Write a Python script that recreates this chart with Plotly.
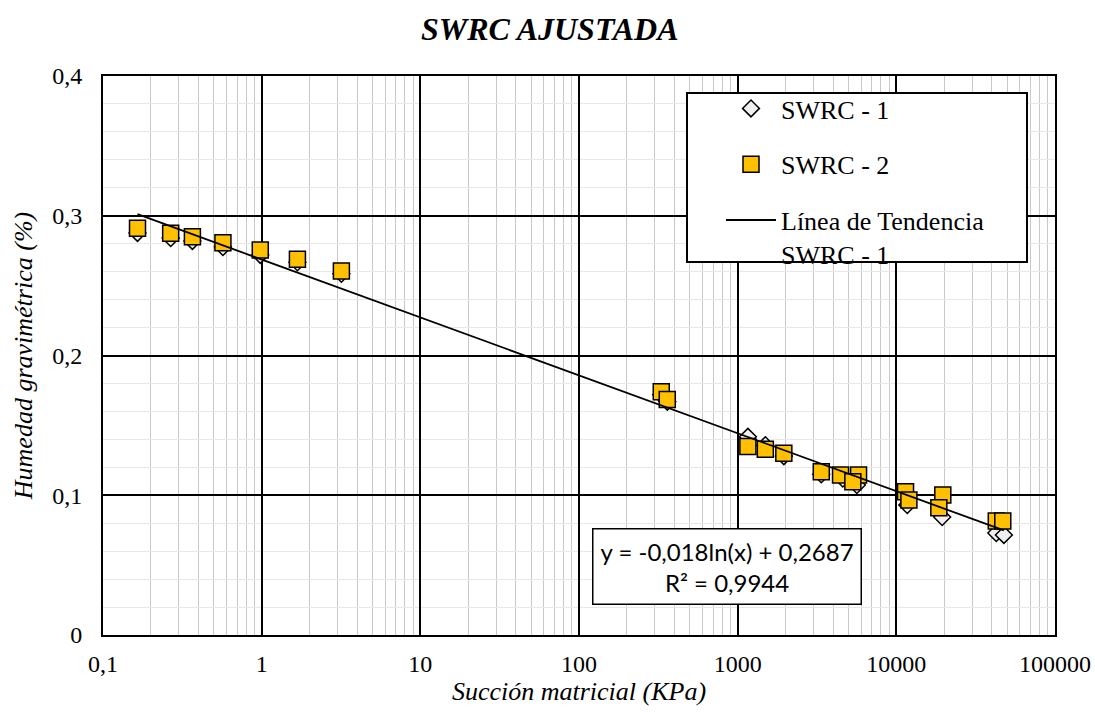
import numpy as np
import plotly.graph_objects as go

# ---------------- data ----------------
swrc1_x = [0.165, 0.267, 0.366, 0.57, 0.98, 1.68, 3.18, 330, 360, 1160, 1494, 1954,
           3365, 4600, 5640, 11720, 19450, 42650, 47640]
swrc1_y = [0.2877, 0.284, 0.282, 0.2776, 0.272, 0.2667, 0.2585, 0.172, 0.167, 0.1418,
           0.1358, 0.128, 0.115, 0.112, 0.1073, 0.093, 0.0844, 0.073, 0.0716]

swrc2_x = [0.165, 0.267, 0.366, 0.57, 0.98, 1.68, 3.18, 330, 360, 1160, 1494, 1954,
           3365, 4450, 5780, 5320, 11430, 12000, 19630, 18530, 42650, 46870]
swrc2_y = [0.291, 0.2874, 0.285, 0.2807, 0.2755, 0.2688, 0.2605, 0.1741, 0.1686, 0.1348,
           0.1329, 0.130, 0.1169, 0.1145, 0.1145, 0.1097, 0.1025, 0.0966, 0.1002, 0.0911,
           0.0816, 0.0816]

trend_slope = -0.018
trend_intercept = 0.2687
trend_label = "y = -0,018ln(x) + 0,2687<br>R² = 0,9944"

x_tickvals = [0.1, 1, 10, 100, 1000, 10000, 100000]
x_ticktext = ["0,1", "1", "10", "100", "1000", "10000", "100000"]
y_tickvals = [0, 0.1, 0.2, 0.3, 0.4]
y_ticktext = ["0", "0,1", "0,2", "0,3", "0,4"]

# trend line over the SWRC-1 range
tx = np.logspace(np.log10(min(swrc1_x)), np.log10(max(swrc1_x)), 60)
ty = trend_slope * np.log(tx) + trend_intercept

x_minor = [m * 10.0 ** e for e in range(-1, 5) for m in range(2, 10)]

SERIF = "Liberation Serif, Times New Roman, serif"

L, R, T, B = 103, 1055, 76, 635
PW, PH = R - L, B - T


def px(xp):
    return (xp - L) / PW


def py(yp):
    return (B - yp) / PH


fig = go.Figure()
fig.add_trace(go.Scatter(
    x=swrc1_x, y=swrc1_y, mode="markers", name="SWRC - 1", legendgroup="a",
    marker=dict(symbol="diamond", size=13, color="#f0f0f0",
                line=dict(color="black", width=1.5)),
))
fig.add_trace(go.Scatter(
    x=swrc2_x, y=swrc2_y, mode="markers", name="SWRC - 2", legendgroup="b",
    marker=dict(symbol="square", size=16, color="#FFC000",
                line=dict(color="black", width=1.5)),
))
fig.add_trace(go.Scatter(
    x=tx, y=ty, mode="lines", name="Línea de Tendencia<br>SWRC - 1", legendgroup="c",
    line=dict(color="black", width=1.8),
))

axis_common = dict(
    showline=True, linecolor="black", linewidth=2, mirror=True,
    ticks="", zeroline=False, automargin=False,
    tickfont=dict(family=SERIF, size=24, color="black"),
)

fig.update_xaxes(
    type="log", range=[-1, 5],
    tickmode="array", tickvals=x_tickvals, ticktext=x_ticktext,
    showgrid=True, gridcolor="black", gridwidth=1.5,
    minor=dict(tickmode="array", tickvals=x_minor, showgrid=True,
               gridcolor="#c8c8c8", gridwidth=1),
    ticklabelstandoff=6,
    title=dict(text="Succión matricial (KPa)", standoff=2,
               font=dict(family=SERIF, size=26, color="black", style="italic")),
    **axis_common,
)
fig.update_yaxes(
    range=[0, 0.4],
    tickmode="array", tickvals=y_tickvals, ticktext=y_ticktext,
    showgrid=True, gridcolor="black", gridwidth=1.5,
    minor=dict(dtick=0.02, showgrid=True, gridcolor="#e8e8e8", gridwidth=1),
    ticklabelstandoff=14,
    title=dict(text="Humedad gravimétrica (%)", standoff=12,
               font=dict(family=SERIF, size=26, color="black", style="italic")),
    **axis_common,
)

# legend frame
fig.add_shape(type="rect", xref="paper", yref="paper",
              x0=px(687), x1=px(1027), y0=py(262), y1=py(93),
              line=dict(color="black", width=2), fillcolor="white", layer="above")

fig.add_annotation(
    xref="paper", yref="paper", x=px(727), y=py(566),
    xanchor="center", yanchor="middle",
    text=trend_label, showarrow=False, align="center",
    font=dict(family="Lato, Carlito, Calibri, sans-serif", size=24, color="black"),
    bordercolor="black", borderwidth=1.5, borderpad=7, bgcolor="white",
)

fig.update_layout(
    width=1095, height=715,
    margin=dict(l=L, r=1095 - R, t=T, b=715 - B),
    paper_bgcolor="white", plot_bgcolor="white",
    title=dict(text="<b><i>SWRC AJUSTADA</i></b>", x=0.502, xanchor="center",
               y=1 - 29 / 715, yanchor="middle",
               font=dict(family=SERIF, size=32, color="black")),
    legend=dict(x=px(721), y=py(85), xanchor="left", yanchor="top",
                bgcolor="rgba(0,0,0,0)", borderwidth=0, tracegroupgap=19,
                valign="top",
                font=dict(family=SERIF, size=26, color="black"), itemwidth=50),
    showlegend=True,
)

fig.write_html(
    "out.html",
    config={"displayModeBar": False},
    post_script="document.body.style.margin='0';document.body.style.padding='0';",
)
